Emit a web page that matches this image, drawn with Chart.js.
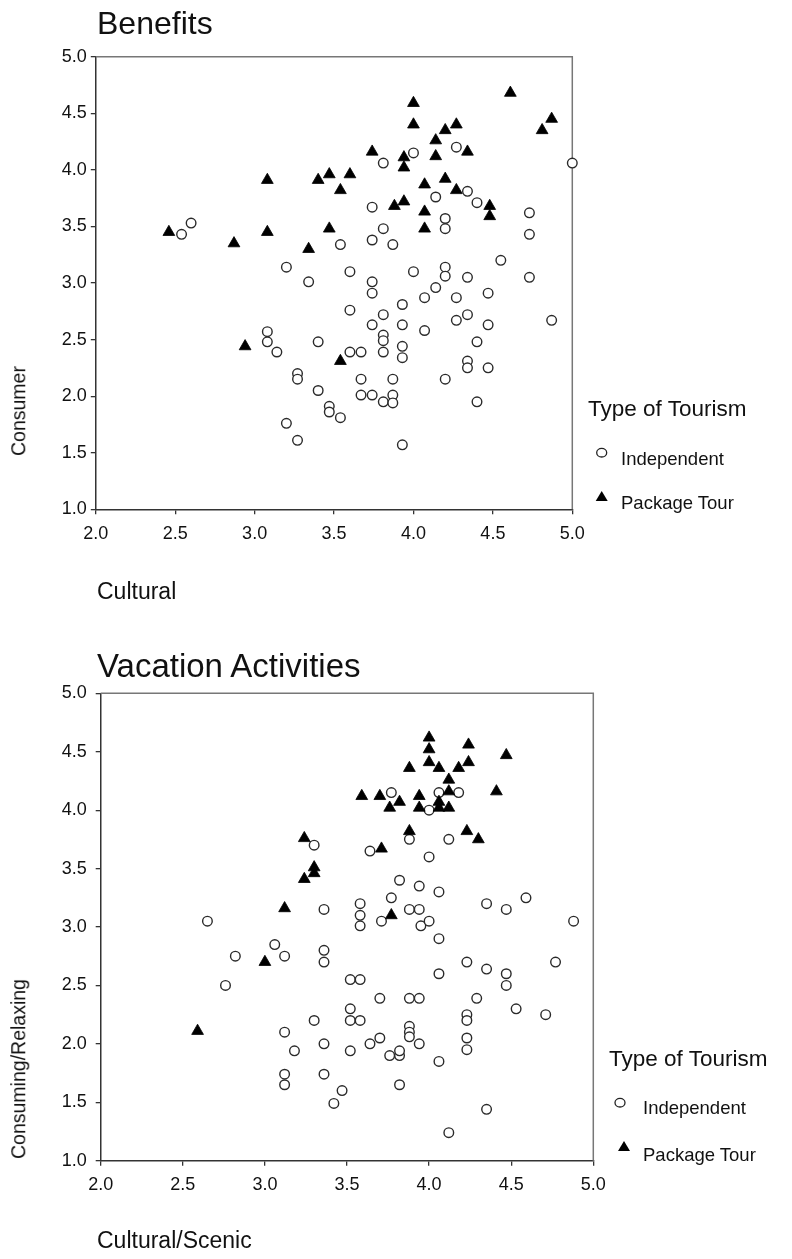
<!DOCTYPE html>
<html><head><meta charset="utf-8">
<script src="https://cdn.jsdelivr.net/npm/chart.js@4.4.1/dist/chart.umd.min.js"></script>
<style>
html,body{margin:0;padding:0;background:#fff;}
body{width:792px;height:1259px;overflow:hidden;position:relative;font-family:"Liberation Sans",Arial,Helvetica,sans-serif;color:#111;}
.t{position:absolute;white-space:nowrap;line-height:1;}
.rot{position:absolute;white-space:nowrap;line-height:1;transform:translate(-50%,-50%) rotate(-90deg);}
canvas{position:absolute;left:0;}
svg{position:absolute;left:0;top:0;}
</style></head><body>
<canvas id="c1" width="792" height="620" style="top:0"></canvas>
<canvas id="c2" width="792" height="629" style="top:630px"></canvas>

<div class="t" style="left:97px;top:7px;font-size:32px;">Benefits</div>
<div class="rot" style="left:19px;top:411px;font-size:19.5px;">Consumer</div>
<div class="t" style="left:97px;top:580px;font-size:23px;">Cultural</div>
<div class="t" style="left:588px;top:398px;font-size:22.5px;">Type of Tourism</div>
<div class="t" style="left:621px;top:450px;font-size:18.5px;">Independent</div>
<div class="t" style="left:621px;top:494px;font-size:18.5px;">Package Tour</div>

<div class="t" style="left:97px;top:649px;font-size:33px;">Vacation Activities</div>
<div class="rot" style="left:19px;top:1069px;font-size:19.5px;">Consuming/Relaxing</div>
<div class="t" style="left:97px;top:1229px;font-size:23px;">Cultural/Scenic</div>
<div class="t" style="left:609px;top:1048px;font-size:22.5px;">Type of Tourism</div>
<div class="t" style="left:643px;top:1099px;font-size:18.5px;">Independent</div>
<div class="t" style="left:643px;top:1146px;font-size:18.5px;">Package Tour</div>

<svg width="792" height="1259">
  <ellipse cx="601.7" cy="452.7" rx="5" ry="4.3" fill="#fff" stroke="#222" stroke-width="1.3"/>
  <polygon points="601.7,491 607.7,501 595.7,501" fill="#000"/>
  <ellipse cx="620" cy="1102.7" rx="5" ry="4.3" fill="#fff" stroke="#222" stroke-width="1.3"/>
  <polygon points="624,1141 630,1151 618,1151" fill="#000"/>
</svg>

<script>
// ---- tick labels ----
const xTickLabels = ['2.0','2.5','3.0','3.5','4.0','4.5','5.0'];
const yTickLabels = ['1.0','1.5','2.0','2.5','3.0','3.5','4.0','4.5','5.0'];
const seriesNames = ['Independent','Package Tour'];

// ---- Benefits: [Cultural, Consumer] ----
const benefitsIndependent = [
[2.54,3.43],[2.60,3.53],[3.20,3.14],[3.34,3.01],[3.54,3.34],[3.81,4.06],[4.00,4.15],[4.27,4.20],[5.00,4.06],
[4.14,3.76],[4.34,3.81],[4.40,3.71],[4.73,3.62],[4.73,3.43],[3.74,3.67],[4.20,3.57],[4.20,3.48],[3.81,3.48],
[3.74,3.38],[3.87,3.34],[3.60,3.10],[3.74,3.01],[3.74,2.91],[4.00,3.10],[4.20,3.14],[4.20,3.06],[4.34,3.05],
[4.55,3.20],[4.73,3.05],[4.14,2.96],[3.60,2.76],[3.93,2.81],[4.07,2.87],[4.27,2.87],[4.47,2.91],[3.81,2.72],
[3.74,2.63],[3.93,2.63],[4.07,2.58],[4.27,2.67],[4.34,2.72],[4.47,2.63],[4.87,2.67],[3.81,2.54],[3.81,2.49],
[3.81,2.39],[3.60,2.39],[3.67,2.39],[3.93,2.44],[3.93,2.34],[4.40,2.48],[4.34,2.31],[4.34,2.25],[4.47,2.25],
[4.20,2.15],[3.67,2.15],[3.87,2.15],[3.67,2.01],[3.74,2.01],[3.81,1.95],[3.87,2.01],[3.87,1.94],[3.47,1.91],
[3.47,1.86],[3.54,1.81],[4.40,1.95],[3.93,1.57],[3.08,2.57],[3.08,2.48],[3.14,2.39],[3.40,2.48],[3.27,2.20],
[3.27,2.15],[3.40,2.05],[3.20,1.76],[3.27,1.61]
];
const benefitsPackage = [
[2.46,3.45],[2.87,3.35],[3.08,3.91],[3.08,3.45],[3.34,3.30],[3.40,3.91],[3.47,3.96],[3.47,3.48],[3.54,3.82],
[3.60,3.96],[3.74,4.16],[3.94,4.11],[3.94,4.02],[4.00,4.59],[4.00,4.40],[4.14,4.26],[4.20,4.35],[4.27,4.40],
[4.14,4.12],[4.34,4.16],[4.61,4.68],[4.87,4.45],[4.81,4.35],[4.07,3.87],[4.20,3.92],[4.27,3.82],[4.48,3.68],
[4.48,3.59],[3.88,3.68],[3.94,3.72],[4.07,3.63],[4.07,3.48],[2.94,2.44],[3.54,2.31]
];

// ---- Vacation Activities: [Cultural/Scenic, Consuming/Relaxing] ----
const vacationIndependent = [
[3.30,3.70],[3.36,3.15],[2.65,3.05],[3.77,4.15],[4.00,4.00],[4.06,4.15],[4.18,4.15],[3.88,3.75],[4.12,3.75],
[3.64,3.65],[4.00,3.60],[3.82,3.40],[3.94,3.35],[4.06,3.30],[3.77,3.25],[3.58,3.20],[3.58,3.10],[3.58,3.01],
[3.88,3.15],[3.94,3.15],[3.71,3.05],[3.95,3.01],[4.00,3.05],[4.35,3.20],[4.47,3.15],[4.59,3.25],[4.88,3.05],
[3.06,2.85],[2.82,2.75],[3.12,2.75],[3.36,2.80],[3.36,2.70],[2.76,2.50],[3.12,2.10],[3.18,1.94],[3.30,2.20],
[3.36,2.00],[3.12,1.74],[3.12,1.65],[3.36,1.74],[3.42,1.49],[3.47,1.60],[4.06,2.90],[4.23,2.70],[4.35,2.64],
[4.47,2.60],[4.47,2.50],[4.77,2.70],[4.06,2.60],[3.52,2.55],[3.58,2.55],[3.70,2.39],[3.88,2.39],[3.94,2.39],
[4.29,2.39],[3.52,2.30],[3.52,2.20],[3.58,2.20],[4.23,2.25],[4.23,2.20],[4.23,2.05],[4.23,1.95],[4.53,2.30],
[4.71,2.25],[3.88,2.15],[3.88,2.10],[3.88,2.06],[3.94,2.00],[3.70,2.05],[3.64,2.00],[3.52,1.94],[3.76,1.90],
[3.82,1.90],[3.82,1.94],[4.06,1.85],[3.82,1.65],[4.35,1.44],[4.12,1.24]
];
const vacationPackage = [
[3.24,3.76],[3.30,3.51],[3.30,3.46],[3.24,3.41],[3.12,3.16],[4.00,4.62],[4.00,4.52],[4.00,4.41],[4.24,4.56],
[4.47,4.47],[3.88,4.36],[4.06,4.36],[4.18,4.36],[4.24,4.41],[4.12,4.26],[3.59,4.12],[3.70,4.12],[3.82,4.07],
[3.76,4.02],[3.94,4.12],[3.94,4.02],[4.12,4.16],[4.06,4.07],[4.06,4.02],[4.12,4.02],[4.41,4.16],[3.88,3.82],
[4.23,3.82],[4.30,3.75],[3.71,3.67],[3.77,3.10],[3.00,2.70],[2.59,2.11]
];

const framePlugin = {
  id: 'frame',
  beforeDatasetsDraw(chart) {
    const {ctx, chartArea: a} = chart;
    ctx.save();
    ctx.strokeStyle = '#777';
    ctx.lineWidth = 1.5;
    ctx.beginPath();
    ctx.moveTo(a.left, a.top);
    ctx.lineTo(a.right, a.top);
    ctx.lineTo(a.right, a.bottom);
    ctx.stroke();
    ctx.restore();
  }
};

const FONT = '"Liberation Sans", Arial, Helvetica, sans-serif';

function makeChart(id, indep, pack, area, canvasH, yPad) {
  const yAxisW = 40, xAxisH = 40;
  const toPts = arr => arr.map(p => ({x: p[0], y: p[1]}));
  return new Chart(document.getElementById(id), {
    type: 'scatter',
    data: {
      datasets: [
        { label: seriesNames[0], data: toPts(indep), pointStyle: 'circle', pointRadius: 4.8,
          backgroundColor: '#fff', borderColor: '#2a2a2a', borderWidth: 1.4, clip: false, order: 1 },
        { label: seriesNames[1], data: toPts(pack), pointStyle: 'triangle', pointRadius: 6.8,
          backgroundColor: '#000', borderColor: '#000', borderWidth: 0.8, clip: false, order: 0 }
      ]
    },
    options: {
      responsive: false, animation: false, events: [],
      layout: { padding: { left: area.left - yAxisW, top: area.top, right: 792 - area.right,
                           bottom: canvasH - area.bottom - xAxisH } },
      plugins: { legend: { display: false }, tooltip: { enabled: false } },
      scales: {
        x: {
          type: 'linear', min: 2, max: 5,
          ticks: { stepSize: 0.5, autoSkip: false, maxRotation: 0, padding: 9, color: '#111',
                   font: { family: FONT, size: 18 }, callback: (v, i) => xTickLabels[i] },
          grid: { display: true, drawOnChartArea: false, drawTicks: true, tickLength: 5, color: '#333', lineWidth: 1.3 },
          border: { display: true, color: '#333', width: 1.5 },
          afterFit: s => { s.height = xAxisH; }
        },
        y: {
          type: 'linear', min: 1, max: 5,
          ticks: { stepSize: 0.5, autoSkip: false, padding: yPad, color: '#111',
                   font: { family: FONT, size: 18 }, callback: (v, i) => yTickLabels[i] },
          grid: { display: true, drawOnChartArea: false, drawTicks: true, tickLength: 5, color: '#333', lineWidth: 1.3 },
          border: { display: true, color: '#333', width: 1.5 },
          afterFit: s => { s.width = yAxisW; }
        }
      }
    },
    plugins: [framePlugin]
  });
}

makeChart('c1', benefitsIndependent, benefitsPackage,
  { left: 95.8, right: 572.3, top: 56.7, bottom: 509.3 }, 620, 4);
makeChart('c2', vacationIndependent, vacationPackage,
  { left: 100.7, right: 593.3, top: 63.3, bottom: 530.7 }, 629, 9);
</script>
</body></html>
